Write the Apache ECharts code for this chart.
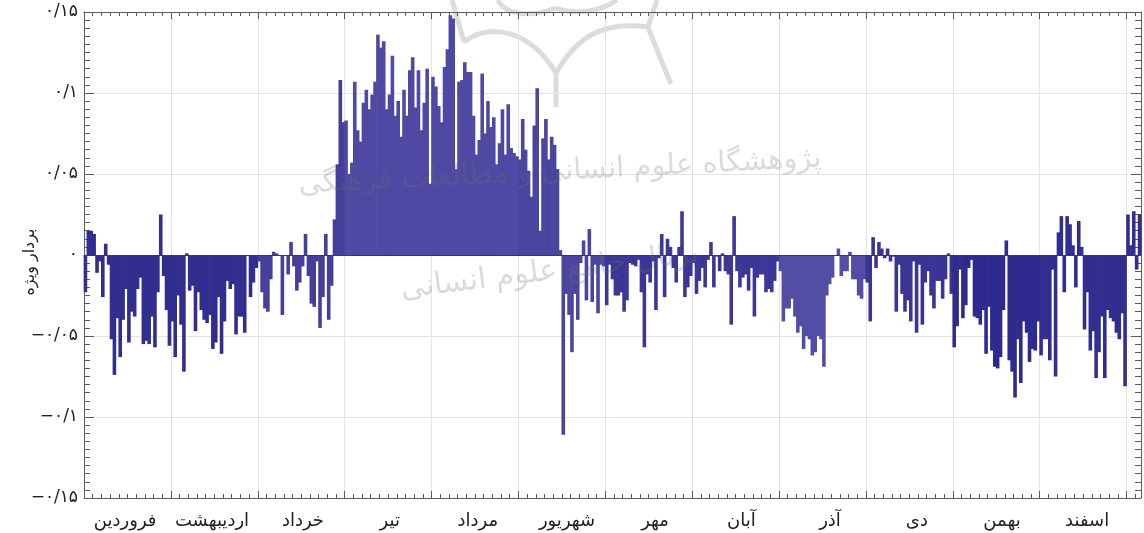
<!DOCTYPE html>
<html>
<head>
<meta charset="utf-8">
<style>
html,body{margin:0;padding:0;background:#fff}
#chart{width:1144px;height:533px}
</style>
<script src="https://cdn.jsdelivr.net/npm/echarts@6/dist/echarts.min.js"></script>
</head>
<body>
<div id="chart"></div>
<script>
// month names, in order from day 0 of the year, and the day each name is centred on
var months=['فروردین','اردیبهشت','خرداد','تیر','مرداد','شهریور','مهر','آبان','آذر','دی','بهمن','اسفند'];
var monthLabelDays=[14.2,44.2,75.6,105.6,136,166.8,197.2,227,257.6,287.6,317,346.4];
var yTicks=[-0.15,-0.1,-0.05,0,0.05,0.1,0.15];
var yTickLabels=['−۰/۱۵','−۰/۱','−۰/۰۵','۰','۰/۰۵','۰/۱','۰/۱۵'];
var yName='بردار ویژه';
var watermarkTop='پژوهشگاه علوم انسانی و مطالعات فرهنگی';
var watermarkBottom='پرتال جامع علوم انسانی';

// daily values
var farvardin=[-0.023,0.015,0.015,0.013,-0.011,-0.004,-0.026,0.007,-0.006,-0.052,-0.074,-0.039,-0.063,-0.04,-0.021,-0.054,-0.035,-0.038,-0.021,-0.014,-0.055,-0.053,-0.055,-0.038,-0.057,-0.023,0.025,-0.013,-0.034,-0.056];
var ordibehesht=[-0.041,-0.063,-0.025,-0.043,-0.072,0.001,-0.022,-0.019,-0.047,-0.023,-0.034,-0.04,-0.042,-0.037,-0.058,-0.054,-0.026,-0.061,-0.041,-0.016,-0.021,-0.018,-0.049,-0.038,-0.038,-0.048,0,-0.026,-0.017,-0.008];
var khordad=[-0.004,-0.023,-0.033,-0.035,-0.015,0.002,0.001,0,-0.037,0,-0.012,0.008,-0.007,-0.022,-0.017,-0.007,0.013,-0.013,-0.03,-0.032,-0.004,-0.045,-0.026,0.013,-0.04,-0.019,0.022,0.056,0.108,0.082];
var tir=[0.083,0.05,0.057,0.107,0.077,0.07,0.094,0.102,0.09,0.099,0.107,0.136,0.128,0.132,0.09,0.099,0.123,0.086,0.095,0.073,0.102,0.086,0.114,0.122,0.091,0.114,0.077,0.094,0.115,0.044];
var mordad=[0.11,0.104,0.092,0.082,0.116,0.127,0.148,0.146,0.053,0.107,0.108,0.119,0.113,0.113,0.086,0.062,0.071,0.112,0.075,0.095,0.079,0.085,0.056,0.069,0.09,0.062,0.093,0.066,0.063,0.061];
var shahrivar=[0.059,0.084,0.065,0.052,0.036,0.08,0.103,0.015,0.072,0.084,0.059,0.073,0.068,0.053,0.003,-0.111,-0.024,-0.037,-0.06,-0.024,-0.04,-0.005,0.009,-0.028,0.016,-0.029,-0.006,-0.036,-0.006,-0.007];
var mehr=[-0.031,-0.006,-0.015,-0.025,-0.025,-0.023,-0.035,-0.028,-0.005,-0.006,-0.007,-0.003,-0.023,-0.057,-0.012,-0.017,-0.004,-0.034,-0.002,0.013,-0.026,0.01,0.005,-0.008,-0.017,0.005,0.027,-0.026,-0.02,-0.013];
var aban=[-0.005,-0.024,-0.016,-0.008,-0.02,-0.003,0.008,-0.02,-0.001,-0.01,0.001,-0.01,-0.012,-0.043,0.024,-0.01,-0.02,-0.014,-0.012,-0.022,-0.008,-0.038,-0.014,-0.012,-0.012,-0.023,-0.021,-0.023,-0.016,-0.004];
var azar=[-0.01,-0.041,-0.033,-0.033,-0.027,-0.038,-0.048,-0.044,-0.058,-0.05,-0.052,-0.062,-0.06,-0.05,-0.052,-0.069,-0.025,-0.018,-0.014,0,0.004,-0.013,-0.01,-0.01,0.002,-0.015,-0.015,-0.025,-0.027,-0.015];
var dey=[-0.017,-0.041,0.011,-0.008,0.008,0.004,-0.002,0.004,-0.004,-0.001,-0.035,-0.006,-0.024,-0.035,-0.028,-0.041,-0.004,-0.048,-0.006,-0.043,-0.017,-0.01,-0.025,-0.033,-0.016,-0.016,-0.027,-0.015,0.001,-0.024];
var bahman=[-0.057,-0.044,-0.009,-0.039,-0.031,-0.008,-0.003,-0.038,-0.039,-0.043,-0.034,-0.061,-0.032,-0.059,-0.069,-0.07,-0.063,-0.034,0.009,-0.065,-0.072,-0.088,-0.052,-0.079,-0.041,-0.048,-0.066,-0.058,-0.059,-0.041];
var esfand=[-0.062,-0.052,-0.052,-0.065,-0.009,-0.075,0.014,0.024,-0.023,0.024,0.019,0.006,-0.02,0.021,0.005,-0.046,-0.023,-0.059,-0.047,-0.076,-0.06,-0.038,-0.076,-0.034,-0.039,-0.041,-0.048,-0.052,-0.036,-0.081,0.025,0.006,0.027,-0.009,0.025];
var values=[].concat(farvardin,ordibehesht,khordad,tir,mordad,shahrivar,mehr,aban,azar,dey,bahman,esfand);

var barData=[];
for(var i=0;i<values.length;i++){
  barData.push([i+0.5,values[i]]);
}

var chart=echarts.init(document.getElementById('chart'));
var fontName='"DejaVu Sans","Noto Sans",sans-serif';
var frame='#5a5a5a';
// the scan is paler in some months
var monthColors=['#322e90','#322e90','#443f9b','#4f49a3','#4f49a3','#4a459f','#3c3796','#3c3796','#534da6','#3a3595','#2f2b8e','#322e90','#322e90'];

// watermark logo strokes, grey, behind the bars
function logoStroke(x1,y1,cx1,cy1,cx2,cy2,x2,y2){
  return {
    type:'bezierCurve',silent:true,z:0,
    shape:{x1:x1,y1:y1,cpx1:cx1,cpy1:cy1,cpx2:cx2,cpy2:cy2,x2:x2,y2:y2},
    style:{fill:null,stroke:'#dcdcdc',lineWidth:5}
  };
}

var option={
  animation:false,
  backgroundColor:'#fff',
  grid:{left:84,right:3,top:12,bottom:35,containLabel:false,outerBoundsMode:'none'},
  graphic:[
    logoStroke(452,0,456,14,460,28,464,42),
    logoStroke(464,42,490,22,530,30,556,73),
    logoStroke(556,73,575,40,600,20,648,27),
    logoStroke(657,0,654,9,651,18,648,27),
    logoStroke(648,27,655,45,663,65,671,84),
    logoStroke(556,73,556,84,556,96,556,107),
    logoStroke(498,0,505,15,530,18,556,8),
    logoStroke(556,8,575,15,600,12,617,0),
    {
      type:'text',silent:true,z:10,x:560,y:172,rotation:0.05,
      style:{text:watermarkTop,fontSize:29,fontFamily:fontName,fill:'rgba(110,110,110,0.25)',align:'center',verticalAlign:'middle'}
    },
    {
      type:'text',silent:true,z:10,x:550,y:272,rotation:0.12,
      style:{text:watermarkBottom,fontSize:30,fontFamily:fontName,fill:'rgba(110,110,110,0.25)',align:'center',verticalAlign:'middle'}
    },
    { // y axis title, it sits in among the tick labels
      type:'text',silent:true,z:10,x:30,y:262,rotation:Math.PI/2,
      style:{text:yName,fontSize:16,fontFamily:fontName,fill:'#222',align:'center',verticalAlign:'middle'}
    }
  ],
  xAxis:[
    { // bottom axis, month grid and ticks
      type:'value',min:0,max:365,interval:30,position:'bottom',
      axisLine:{onZero:false,lineStyle:{color:frame,width:1}},
      axisTick:{inside:true,length:7,lineStyle:{color:frame}},
      minorTick:{show:true,splitNumber:10,length:4,lineStyle:{color:frame}},
      splitLine:{show:true,lineStyle:{color:'#e4e4e4',width:1}},
      axisLabel:{show:false}
    },
    { // top axis, same ticks
      type:'value',min:0,max:365,interval:30,position:'top',
      axisLine:{onZero:false,lineStyle:{color:frame,width:1}},
      axisTick:{inside:true,length:7,lineStyle:{color:frame}},
      minorTick:{show:true,splitNumber:10,length:4,lineStyle:{color:frame}},
      splitLine:{show:false},
      axisLabel:{show:false}
    },
    { // month names only
      type:'value',min:0,max:365,position:'bottom',
      axisLine:{show:false,onZero:false},
      axisTick:{show:false},
      splitLine:{show:false},
      axisLabel:{
        show:true,margin:14,fontSize:18,color:'#222',fontFamily:fontName,
        customValues:monthLabelDays,
        formatter:function(v){
          return months[monthLabelDays.indexOf(v)]||'';
        }
      }
    }
  ],
  yAxis:[
    {
      type:'value',min:-0.15,max:0.15,interval:0.05,position:'left',
      axisLine:{show:true,onZero:false,lineStyle:{color:frame,width:1}},
      axisTick:{inside:true,length:10,lineStyle:{color:frame}},
      minorTick:{show:true,splitNumber:10,length:6,lineStyle:{color:frame}},
      splitLine:{show:true,lineStyle:{color:'#e4e4e4',width:1}},
      axisLabel:{
        margin:6,fontSize:17,color:'#222',fontFamily:fontName,
        formatter:function(v){
          for(var k=0;k<yTicks.length;k++){
            if(Math.abs(yTicks[k]-v)<1e-6){return yTickLabels[k];}
          }
          return '';
        }
      }
    },
    {
      type:'value',min:-0.15,max:0.15,interval:0.05,position:'right',
      axisLine:{show:true,onZero:false,lineStyle:{color:frame,width:1}},
      axisTick:{inside:true,length:10,lineStyle:{color:frame}},
      minorTick:{show:true,splitNumber:10,length:6,lineStyle:{color:frame}},
      splitLine:{show:false},
      axisLabel:{show:false}
    }
  ],
  series:[{
    type:'bar',
    xAxisIndex:0,yAxisIndex:0,
    data:barData,
    barWidth:3.6,
    itemStyle:{
      color:function(p){
        return monthColors[Math.floor(p.value[0]/30)];
      }
    },
    markLine:{
      silent:true,symbol:'none',label:{show:false},
      lineStyle:{color:'#34308f',width:1,type:'solid'},
      data:[{yAxis:0}]
    }
  }]
};
chart.setOption(option);
</script>
</body>
</html>
